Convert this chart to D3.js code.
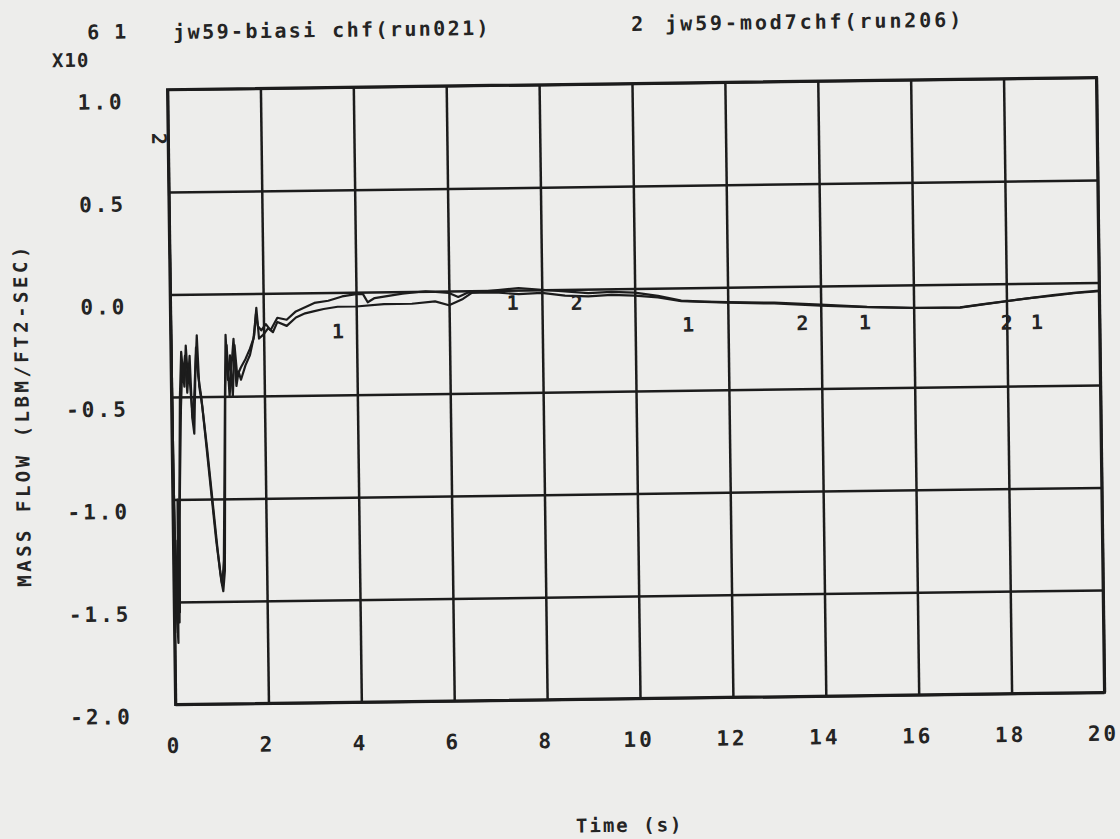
<!DOCTYPE html>
<html>
<head>
<meta charset="utf-8">
<script src="https://cdn.jsdelivr.net/npm/d3@7"></script>
<style>
  html, body { margin: 0; padding: 0; background: #ededeb; }
  svg { display: block; }
  text { font-family: "DejaVu Sans Mono", "Liberation Mono", monospace; font-weight: bold; fill: #242424; }
</style>
</head>
<body>
<svg id="chart" width="1120" height="839"></svg>
<script>
// Mass flow vs time, two RELAP runs (values in units of 10^6)
const xTicks = [0, 2, 4, 6, 8, 10, 12, 14, 16, 18, 20];
const yTicks = [-2.0, -1.5, -1.0, -0.5, 0.0, 0.5, 1.0];

// Series 1: jw59-biasi chf (run021)
const time1 = [0, 0.03, 0.06, 0.08, 0.1, 0.12, 0.14, 0.16, 0.2, 0.24, 0.28, 0.32, 0.36, 0.4, 0.44, 0.48, 0.52, 0.56, 0.6,
  0.66, 0.75, 0.85, 0.95, 1.02, 1.06, 1.1, 1.13, 1.16, 1.2, 1.25, 1.3, 1.35, 1.4, 1.45, 1.5, 1.6, 1.7,
  1.8, 1.85, 1.9, 2.0, 2.1, 2.2, 2.3, 2.5, 2.7, 2.9, 3.1, 3.3, 3.6, 4.0, 4.6, 5.2, 5.7, 6.0, 6.3, 6.5,
  7.0, 7.5, 8.0, 8.5, 9.0, 9.5, 10.0, 10.5, 11.0, 11.5, 12.0, 13.0, 14.0, 15.0, 16.0, 17.0, 17.5,
  18.0, 18.5, 19.0, 19.5, 20.0];
const flow1 = [0.0, -1.2, -1.6, -1.70, -1.0, -1.55, -1.1, -0.9, -0.55, -0.35, -0.45, -0.25, -0.42, -0.30, -0.6, -0.68, -0.38, -0.2, -0.45,
  -0.55, -0.75, -1.0, -1.25, -1.40, -1.45, -1.35, -0.9, -0.45, -0.25, -0.5, -0.35, -0.22, -0.45, -0.38, -0.42, -0.35, -0.30,
  -0.2, -0.07, -0.22, -0.2, -0.17, -0.19, -0.14, -0.16, -0.12, -0.1, -0.09, -0.08, -0.07, -0.07, -0.06, -0.06, -0.05, -0.07, -0.04, -0.01,
  0.0, 0.01, 0.0, -0.01, -0.02, -0.015, -0.02, -0.037, -0.062, -0.068, -0.072, -0.078, -0.09, -0.104, -0.112, -0.114, -0.1,
  -0.086, -0.072, -0.059, -0.048, -0.04];

// Series 2: jw59-mod7chf (run206)
const time2 = [0, 0.02, 0.05, 0.07, 0.09, 0.11, 0.14, 0.18, 0.22, 0.26, 0.3, 0.34, 0.38, 0.42, 0.46, 0.5, 0.54, 0.58,
  0.64, 0.72, 0.82, 0.92, 1.0, 1.04, 1.08, 1.12, 1.15, 1.18, 1.22, 1.27, 1.32, 1.37, 1.42, 1.5, 1.6, 1.7,
  1.78, 1.84, 1.88, 1.95, 2.05, 2.15, 2.3, 2.5, 2.7, 2.9, 3.1, 3.4, 3.7, 4.0, 4.15, 4.25, 4.4, 5.0, 5.5,
  6.0, 6.2, 6.4, 7.0, 7.5, 8.0, 8.5, 9.0, 9.5, 10.0, 10.5, 11.0, 11.5, 12.0, 13.0, 14.0, 15.0, 16.0,
  17.0, 17.5, 18.0, 18.5, 19.0, 19.5, 20.0];
const flow2 = [0.76, -0.9, -1.5, -1.65, -1.2, -1.6, -1.0, -0.5, -0.28, -0.40, -0.30, -0.48, -0.36, -0.5, -0.62, -0.45, -0.26, -0.40,
  -0.50, -0.70, -0.95, -1.2, -1.36, -1.42, -1.30, -0.85, -0.50, -0.20, -0.42, -0.30, -0.50, -0.25, -0.40, -0.36, -0.32, -0.27,
  -0.22, -0.10, -0.16, -0.18, -0.15, -0.18, -0.12, -0.13, -0.09, -0.07, -0.05, -0.04, -0.02, -0.01, -0.01, -0.05, -0.03, -0.01, 0.0,
  -0.01, -0.03, -0.01, -0.01, -0.02, -0.015, -0.03, -0.035, -0.03, -0.035, -0.045, -0.065, -0.07, -0.075, -0.082, -0.095, -0.106, -0.113,
  -0.113, -0.098, -0.085, -0.072, -0.062, -0.05, -0.043];

// Curve identifier marks placed along the traces (time, flow)
const markNames = ["1", "1", "2", "1", "2", "1", "2", "1"];
const markTime  = [3.6, 7.37, 8.75, 11.14, 13.6, 14.95, 18.0, 18.65];
const markFlow  = [-0.19, -0.063, -0.067, -0.18, -0.18, -0.18, -0.19, -0.19];

const legendNames = ["jw59-biasi chf(run021)", "jw59-mod7chf(run206)"];

const svg = d3.select("#chart");
const M = { left: 171.5, top: 83.5, right: 1100.5, bottom: 698.5 };
const W = M.right - M.left, H = M.bottom - M.top;

const x = d3.scaleLinear().domain([0, 20]).range([0, W]);
const y = d3.scaleLinear().domain([-2.0, 1.0]).range([H, 0]);

// the whole sheet is slightly tilted
const sheet = svg.append("g").attr("transform", "rotate(-0.75 636 391)");
const plot = sheet.append("g").attr("transform", `translate(${M.left},${M.top})`);

const ink = "#1c1c1c";

// grid + tick labels from axes
const xAxis = plot.append("g")
  .attr("transform", `translate(0,${H})`)
  .call(d3.axisBottom(x).tickValues(xTicks).tickSize(-H).tickFormat(d3.format("d")));
const yAxis = plot.append("g")
  .call(d3.axisLeft(y).tickValues(yTicks).tickSize(-W).tickFormat(d => d.toFixed(1)));

[xAxis, yAxis].forEach(a => {
  a.select(".domain").remove();
  a.selectAll(".tick line").attr("stroke", ink).attr("stroke-width", 2.5);
  a.selectAll(".tick text")
    .style("font-size", "21px").style("letter-spacing", "3px")
    .attr("fill", "#242424");
});
xAxis.selectAll(".tick text").attr("y", 41).attr("dy", "0.35em").attr("x", -2);
yAxis.selectAll(".tick text").attr("x", -43).attr("y", 11).attr("dy", "0.35em");

// frame
plot.append("rect").attr("x", 0).attr("y", 0).attr("width", W).attr("height", H)
  .attr("fill", "none").attr("stroke", ink).attr("stroke-width", 3);

// traces
const line = d3.line().x(d => x(d[0])).y(d => y(d[1]));
const series = [d3.zip(time1, flow1), d3.zip(time2, flow2)];
plot.append("clipPath").attr("id", "clipArea")
  .append("rect").attr("x", -2).attr("y", -2).attr("width", W + 4).attr("height", H + 4);
plot.append("g").attr("clip-path", "url(#clipArea)")
  .selectAll("path.trace").data(series).join("path")
  .attr("class", "trace")
  .attr("d", line)
  .attr("fill", "none").attr("stroke", ink).attr("stroke-width", 2.2)
  .attr("stroke-linejoin", "round");

// identifier marks on the traces
plot.selectAll("text.mark").data(d3.range(markNames.length)).join("text")
  .attr("class", "mark")
  .attr("x", i => x(markTime[i])).attr("y", i => y(markFlow[i]))
  .attr("dy", "0.35em").attr("text-anchor", "middle")
  .style("font-size", "20px")
  .text(i => markNames[i]);

// series 2 marker at the left edge (initial value)
plot.append("text")
  .attr("transform", `translate(${x(0) - 9},${y(flow2[0])}) rotate(90)`)
  .attr("dy", "0.35em").attr("text-anchor", "middle")
  .style("font-size", "20px")
  .text("2");

// header: exponent and legend
sheet.append("text").attr("x", 98).attr("y", 25).attr("dy", "0.35em")
  .attr("text-anchor", "middle").style("font-size", "20px").text("6");
sheet.append("text").attr("x", 75).attr("y", 53).attr("dy", "0.35em")
  .attr("text-anchor", "middle").style("font-size", "19px").style("letter-spacing", "1px").text("X10");
sheet.append("text").attr("x", 125).attr("y", 25).attr("dy", "0.35em")
  .attr("text-anchor", "middle").style("font-size", "20px").text("1");
sheet.append("text").attr("x", 178).attr("y", 26).attr("dy", "0.35em")
  .style("font-size", "20px").style("letter-spacing", "2.4px").text(legendNames[0]);
sheet.append("text").attr("x", 642).attr("y", 24).attr("dy", "0.35em")
  .attr("text-anchor", "middle").style("font-size", "20px").text("2");
sheet.append("text").attr("x", 670).attr("y", 24).attr("dy", "0.35em")
  .style("font-size", "20px").style("letter-spacing", "2.9px").text(legendNames[1]);

// axis titles
sheet.append("text")
  .attr("transform", "translate(22,407) rotate(-90)")
  .attr("dy", "0.35em").attr("text-anchor", "middle")
  .style("font-size", "19px").style("letter-spacing", "3.5px")
  .text("MASS FLOW (LBM/FT2-SEC)");
sheet.append("text")
  .attr("x", 624).attr("y", 825).attr("dy", "0.35em").attr("text-anchor", "middle")
  .style("font-size", "19px").style("letter-spacing", "2px")
  .text("Time (s)");
</script>
</body>
</html>
